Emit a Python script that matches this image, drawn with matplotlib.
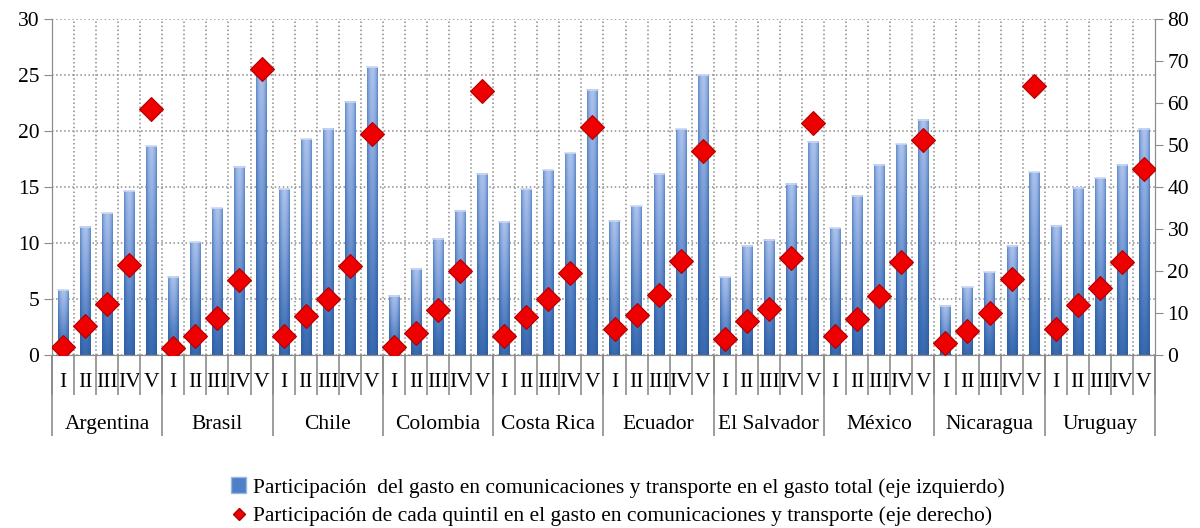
import numpy as np
import matplotlib
matplotlib.use("Agg")
import matplotlib.pyplot as plt
from matplotlib.patches import Patch
from matplotlib.lines import Line2D
from matplotlib.colors import LinearSegmentedColormap

plt.rcParams['font.family'] = ['Liberation Serif', 'DejaVu Serif']

countries = ['Argentina', 'Brasil', 'Chile', 'Colombia', 'Costa Rica',
             'Ecuador', 'El Salvador', 'México', 'Nicaragua', 'Uruguay']
quintiles = ['I', 'II', 'III', 'IV', 'V']

# share of communications & transport in total spending (left axis)
share_total = [
    5.8, 11.45, 12.65, 14.6, 18.65,   # Argentina
    7.0, 10.05, 13.1, 16.8, 25.8,     # Brasil
    14.8, 19.25, 20.2, 22.6, 25.7,    # Chile
    5.3, 7.7, 10.4, 12.9, 16.2,       # Colombia
    11.9, 14.8, 16.5, 18.0, 23.7,     # Costa Rica
    12.0, 13.3, 16.2, 20.15, 25.0,    # Ecuador
    6.95, 9.75, 10.3, 15.3, 19.05,    # El Salvador
    11.3, 14.2, 17.0, 18.8, 21.0,     # México
    4.4, 6.05, 7.4, 9.75, 16.3,       # Nicaragua
    11.55, 14.95, 15.8, 17.0, 20.2,   # Uruguay
]

# share of each quintile in communications & transport spending (right axis)
quintile_share = [
    1.8, 7.0, 12.1, 21.4, 58.5,
    1.6, 4.5, 8.8, 17.9, 68.0,
    4.5, 9.3, 13.3, 21.3, 52.6,
    1.8, 5.2, 10.7, 20.0, 62.9,
    4.4, 9.0, 13.3, 19.6, 54.2,
    6.1, 9.5, 14.3, 22.4, 48.6,
    3.7, 8.1, 10.9, 23.0, 55.2,
    4.4, 8.5, 14.1, 22.2, 51.3,
    2.8, 5.8, 9.9, 18.0, 64.1,
    6.1, 11.9, 15.9, 22.2, 44.4,
]

legend_labels = [
    'Participación  del gasto en comunicaciones y transporte en el gasto total (eje izquierdo)',
    'Participación de cada quintil en el gasto en comunicaciones y transporte (eje derecho)',
]

n = len(share_total)
x = np.arange(n)
grey = '#8c8c8c'

fig = plt.figure(figsize=(12, 5.28), dpi=100)
ax = fig.add_axes([0.0433, 0.3277, 0.9192, 0.6363])
ax2 = ax.twinx()

# gradient bars (light top, dark bottom, cylinder-ish shading)
blues = LinearSegmentedColormap.from_list('b', ['#1f4f93', '#3f6fb5', '#7d9fd8', '#b3c8ee'])
gx = np.linspace(-1, 1, 40)
gy = np.linspace(0, 1, 60)[:, None]
grad = 0.15 + 0.75 * gy * (1 - 0.45 * gx[None, :] ** 2) + 0.15 * (1 - gx[None, :] ** 2)
w = 0.46
for xi, h in zip(x, share_total):
    ax.imshow(grad, cmap=blues, vmin=0, vmax=1.1, origin='lower', aspect='auto',
              extent=(xi - w / 2, xi + w / 2, 0, h), zorder=2, interpolation='bilinear')
    ax.plot([xi - w / 2, xi + w / 2], [h, h], color='#c9d8f3', lw=1.2, zorder=3)
ax.set_xlim(-0.5, n - 0.5)
ax.set_ylim(0, 30)
ax2.set_ylim(0, 80)

ax2.plot(x, quintile_share, linestyle='none', marker='D', markersize=12.5,
         markerfacecolor='#ee0000', markeredgecolor='#b00000', markeredgewidth=0.8, zorder=4)

# grid
ax.set_yticks(np.arange(0, 31, 5))
ax.yaxis.grid(True, linestyle=':', color=grey, lw=1.1)
for b in np.arange(0.5, n - 0.5, 1):
    ax.axvline(b, linestyle=':', color=grey, lw=1.1, zorder=0)
ax.set_axisbelow(True)

ax2.set_yticks(np.arange(0, 81, 10))
for a in (ax, ax2):
    for s in a.spines.values():
        s.set_color(grey)
    a.spines['top'].set_visible(False)
ax.tick_params(axis='y', labelsize=15.5, length=6, color=grey, pad=3)
ax2.tick_params(axis='y', labelsize=15.5, length=6, color=grey, pad=3)

# quintile labels and separators
ax.set_xticks(x)
ax.set_xticklabels(quintiles * len(countries), fontsize=15.5)
ax.set_xticks(np.arange(-0.5, n, 1), minor=True)
ax.tick_params(axis='x', which='major', length=0, pad=13)
ax.tick_params(axis='x', which='minor', length=29, color=grey, width=1.2)

# country labels
sec = ax.secondary_xaxis('bottom')
sec.set_xticks(np.arange(2, n, 5))
sec.set_xticklabels(countries, fontsize=15.5)
sec.set_xticks(np.arange(-0.5, n, 5), minor=True)
sec.tick_params(axis='x', which='major', length=0, pad=43)
sec.tick_params(axis='x', which='minor', length=58, color=grey, width=1.2)
sec.spines['bottom'].set_visible(False)

handles = [
    Patch(facecolor='#4f7fc6', edgecolor='#9bb5e3'),
    Line2D([], [], linestyle='none', marker='D', markersize=6,
           markerfacecolor='#ee0000', markeredgecolor='#b00000'),
]
fig.legend(handles, legend_labels, loc='upper center', bbox_to_anchor=(0.515, 0.112),
           frameon=False, fontsize=15.5, handlelength=0.7, handletextpad=0.3,
           labelspacing=0.4, borderaxespad=0)

fig.savefig('out.png', dpi=100)
